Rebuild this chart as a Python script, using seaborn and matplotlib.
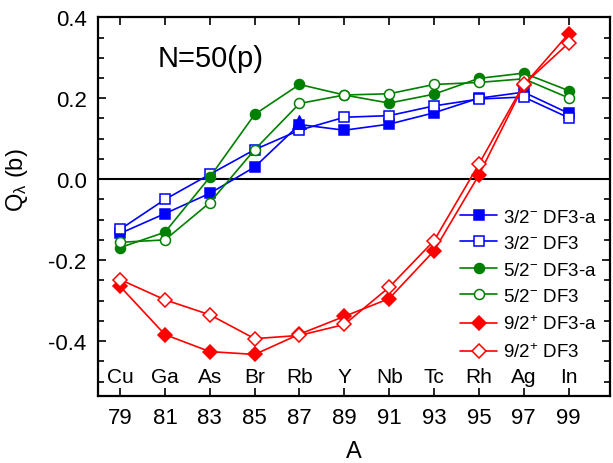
import matplotlib
matplotlib.use("Agg")
import matplotlib.pyplot as plt
import seaborn as sns
import numpy as np
from matplotlib.ticker import MultipleLocator

# ---- data ----
A = [79, 81, 83, 85, 87, 89, 91, 93, 95, 97, 99]
elements = ["Cu", "Ga", "As", "Br", "Rb", "Y", "Nb", "Tc", "Rh", "Ag", "In"]

q32_df3a = [-0.134, -0.085, -0.035, 0.030, 0.135, 0.121, 0.136, 0.164, 0.200, 0.215, 0.163]
q32_df3 = [-0.124, -0.050, 0.012, 0.073, 0.121, 0.153, 0.157, 0.181, 0.198, 0.203, 0.152]
q52_df3a = [-0.169, -0.131, 0.005, 0.160, 0.234, 0.208, 0.188, 0.210, 0.249, 0.262, 0.219]
q52_df3 = [-0.156, -0.150, -0.058, 0.073, 0.187, 0.208, 0.211, 0.234, 0.239, 0.248, 0.201]
q92_df3a = [-0.265, -0.384, -0.426, -0.433, -0.383, -0.339, -0.295, -0.177, 0.010, 0.232, 0.359]
q92_df3 = [-0.248, -0.298, -0.335, -0.394, -0.386, -0.359, -0.267, -0.152, 0.037, 0.234, 0.336]

# extra point (blue triangle at Rb)
tri_A = [87]
tri_q = [0.142]

labels = [r"3/2$^{-}$ DF3-a", r"3/2$^{-}$ DF3", r"5/2$^{-}$ DF3-a",
          r"5/2$^{-}$ DF3", r"9/2$^{+}$ DF3-a", r"9/2$^{+}$ DF3"]

sns.set_style("ticks")
plt.rcParams["font.family"] = ["Liberation Sans", "DejaVu Sans"]
plt.rcParams["mathtext.fontset"] = "custom"
plt.rcParams["mathtext.rm"] = "Liberation Sans"
plt.rcParams["mathtext.it"] = "Liberation Sans:italic"
plt.rcParams["mathtext.bf"] = "Liberation Sans:bold"
for k in ["text.color", "axes.labelcolor", "xtick.color", "ytick.color", "axes.edgecolor"]:
    plt.rcParams[k] = "black"

fig = plt.figure(figsize=(6.13, 4.64), dpi=100)
ax = fig.add_axes([0.1594, 0.145, 0.9951 - 0.1594, 0.9606 - 0.145])

ax.axhline(0, color="black", lw=1.5, zorder=1)

series = [
    (q32_df3a, "blue", "s", True),
    (q32_df3, "blue", "s", False),
    (q52_df3a, "green", "o", True),
    (q52_df3, "green", "o", False),
    (q92_df3a, "red", "D", True),
    (q92_df3, "red", "D", False),
]
for (vals, col, mk, filled), lab in zip(series, labels):
    ms = 7.2 if mk != "D" else 6.8
    sns.lineplot(x=A, y=vals, ax=ax, color=col, marker=mk, markersize=ms,
                 markerfacecolor=col if filled else "white",
                 markeredgecolor=col, markeredgewidth=1.1,
                 linewidth=1.2, label=lab, zorder=3)

sns.scatterplot(x=tri_A, y=tri_q, ax=ax, color="blue", marker="^", s=95,
                edgecolor="blue", linewidth=1, zorder=4, legend=False)

for a, el in zip(A, elements):
    ax.text(a, -0.488, el, ha="center", va="center", fontsize=15)

ax.text(80.69, 0.299, "N=50(p)", ha="left", va="center", fontsize=21)

ax.set_xlim(78, 100.85)
ax.set_ylim(-0.535, 0.4)
ax.set_xticks(A)
ax.set_xticklabels([str(a) for a in A])
ax.yaxis.set_minor_locator(MultipleLocator(0.05))
ax.set_yticks([-0.4, -0.2, 0.0, 0.2, 0.4])
ax.set_yticklabels(["-0.4", "-0.2", "0.0", "0.2", "0.4"])

ax.tick_params(axis="both", which="both", direction="in", top=True, right=True,
               labelsize=16, width=1.2, colors="black")
ax.tick_params(axis="both", which="major", length=6, pad=8)
ax.tick_params(axis="y", which="minor", length=4)
ax.tick_params(axis="x", which="minor", bottom=False, top=False)
for s in ax.spines.values():
    s.set_linewidth(1.6)
    s.set_color("black")
    s.set_visible(True)

ax.set_xlabel("A", fontsize=17, labelpad=9)
ax.set_ylabel(r"Q$_{\mathrm{λ}}$ (b)", fontsize=17)
ax.yaxis.set_label_coords(-0.132, 0.573)

leg = ax.legend(loc="upper left", bbox_to_anchor=(0.707, 0.495), frameon=False,
                fontsize=13.5, handlelength=2.0, handletextpad=0.32,
                labelspacing=0.5, borderaxespad=0, borderpad=0)

fig.savefig("out.png", dpi=100)
